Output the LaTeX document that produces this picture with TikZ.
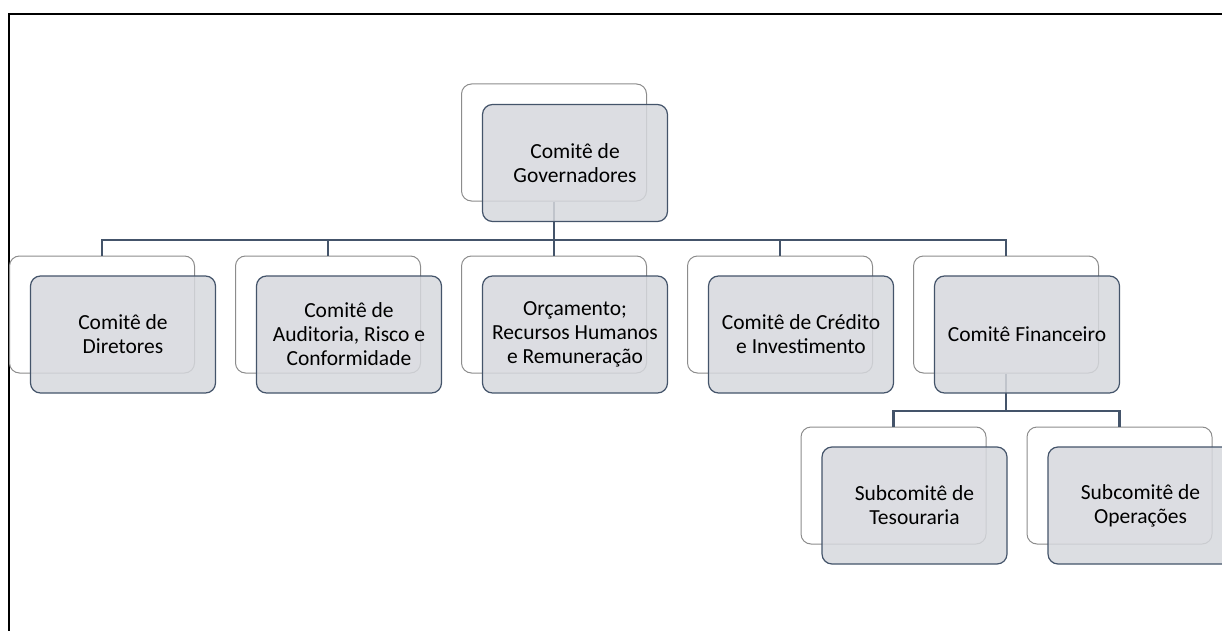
\documentclass[tikz,border=0pt]{standalone}
\usepackage{fontspec}
\setmainfont{Carlito}
\definecolor{boxfill}{RGB}{214,216,221}
\definecolor{boxline}{RGB}{68,84,106}
\definecolor{backline}{RGB}{140,140,140}

\begin{document}
\begin{tikzpicture}[x=1pt,y=-1pt,
    backbox/.style={draw=backline,fill=white,rounded corners=10pt,line width=1pt,
      minimum width=185pt,minimum height=117pt,inner sep=0pt},
    frontbox/.style={draw=boxline,fill=boxfill,fill opacity=0.85,text opacity=1,
      rounded corners=10pt,line width=1.2pt,minimum width=185pt,minimum height=117pt,
      inner sep=0pt,align=center,font=\fontsize{21.5}{24}\selectfont},
    link/.style={draw=boxline,line width=2.8pt}]
        \useasboundingbox (0,0) rectangle (1222,631);
        \clip (0,0) rectangle (1222,631);
        \draw [line width=2.4pt] (9,640) -- (9,14) -- (1230,14); % Frame.

        % Back boxes.
        \node [backbox] (gov-b) at (554,142.5) {};
        \node [backbox] (dir-b) at (102,314.5) {};
        \node [backbox] (aud-b) at (328,314.5) {};
        \node [backbox] (orc-b) at (554,314.5) {};
        \node [backbox] (cred-b) at (780,314.5) {};
        \node [backbox] (fin-b) at (1006,314.5) {};
        \node [backbox] (tes-b) at (893.5,485.5) {};
        \node [backbox] (ope-b) at (1119.5,485.5) {};

        % Links.
        \coordinate (bar1) at (554,240);
        \coordinate (bar2) at (1006,411);
        \draw [link] (gov-b.south) -- (bar1);
        \draw [link] (dir-b.north) |- (bar1);
        \draw [link] (aud-b.north) -- (aud-b.north |- bar1);
        \draw [link] (orc-b.north) -- (bar1);
        \draw [link] (cred-b.north) -- (cred-b.north |- bar1);
        \draw [link] (fin-b.north) |- (bar1);
        \draw [link] (fin-b.south) -- (bar2);
        \draw [link] (tes-b.north) |- (bar2);
        \draw [link] (ope-b.north) |- (bar2);

        % Front boxes.
        \node [frontbox] (gov) at (575,163) {Comitê de\\Governadores};
        \node [frontbox] (dir) at (123,334.5) {Comitê de\\Diretores};
        \node [frontbox] (aud) at (349,334.5) {Comitê de\\Auditoria, Risco e\\Conformidade};
        \node [frontbox] (orc) at (575,334.5) {Orçamento;\\Recursos Humanos\\e Remuneração};
        \node [frontbox] (cred) at (801,334.5) {Comitê de Crédito\\e Investimento};
        \node [frontbox] (fin) at (1027,334.5) {Comitê Financeiro};
        \node [frontbox] (tes) at (914.5,505.5) {Subcomitê de\\Tesouraria};
        \node [frontbox] (ope) at (1140.5,505.5) {Subcomitê de\\Operações};
\end{tikzpicture}
\end{document}
